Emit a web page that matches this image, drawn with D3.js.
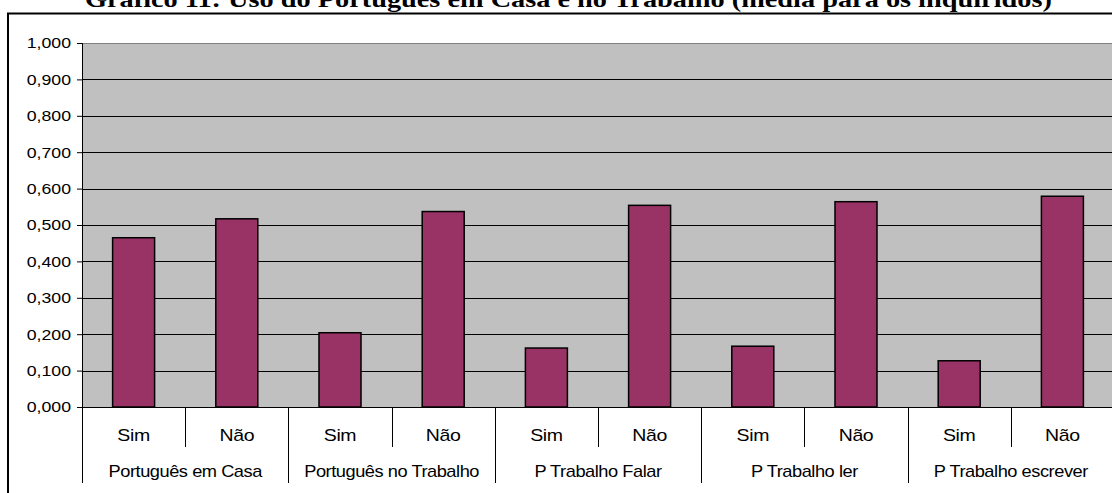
<!DOCTYPE html>
<html>
<head>
<meta charset="utf-8">
<script src="https://cdn.jsdelivr.net/npm/d3@7"></script>
<style>
  html, body { margin: 0; padding: 0; background: #fff; overflow: hidden; }
  svg { display: block; }
</style>
</head>
<body>
<svg id="chart" width="1112" height="493"></svg>
<script>
// Data
const titleText = "Gráfico 11: Uso do Português em Casa e no Trabalho (média para os inquiridos)";
const groups = ["Português em Casa", "Português no Trabalho", "P Trabalho Falar", "P Trabalho ler", "P Trabalho escrever"];
const answers = ["Sim", "Não"];
const values = [0.465, 0.517, 0.204, 0.537, 0.162, 0.554, 0.167, 0.564, 0.127, 0.579];
const yTicks = [0, 0.1, 0.2, 0.3, 0.4, 0.5, 0.6, 0.7, 0.8, 0.9, 1.0];

// Flattened category list (group × answer)
const cats = [];
groups.forEach((g, gi) => answers.forEach((a, ai) => cats.push({ key: gi + "-" + ai, group: g, answer: a, value: values[gi * 2 + ai] })));

const svg = d3.select("#chart");
const sx = 1.18; // horizontal text stretch
const fontSans = "'Liberation Sans', Arial, sans-serif";

const plot = { left: 82, right: 1114, top: 43, bottom: 407 };

const x = d3.scaleBand()
  .domain(cats.map(d => d.key))
  .range([plot.left, plot.right])
  .paddingInner(0.593)
  .paddingOuter(0.2965);

const y = d3.scaleLinear().domain([0, 1]).range([plot.bottom, plot.top]);

const step = (plot.right - plot.left) / cats.length;

// Outer chart frame
svg.append("rect")
  .attr("x", 8).attr("y", 13.5)
  .attr("width", 1200).attr("height", 600)
  .attr("fill", "none").attr("stroke", "#000").attr("stroke-width", 2);

// Title (stretched horizontally, partly above the top edge)
svg.append("text")
  .attr("transform", `translate(85,6.5) scale(${sx},1)`)
  .attr("font-family", "'Liberation Serif', 'Times New Roman', serif")
  .attr("font-weight", "bold")
  .attr("font-size", 24)
  .attr("fill", "#000")
  .text(titleText);

// Plot background
svg.append("rect")
  .attr("x", plot.left).attr("y", plot.top)
  .attr("width", plot.right - plot.left).attr("height", plot.bottom - plot.top)
  .attr("fill", "#c0c0c0");

// Top border of plot area
svg.append("line")
  .attr("x1", plot.left).attr("x2", plot.right)
  .attr("y1", y(1) + 0.5).attr("y2", y(1) + 0.5)
  .attr("stroke", "#808080").attr("stroke-width", 1);

// Gridlines
svg.append("g").selectAll("line")
  .data(yTicks.filter(t => t > 0 && t < 1))
  .join("line")
  .attr("x1", plot.left).attr("x2", plot.right)
  .attr("y1", d => Math.round(y(d)) + 0.5).attr("y2", d => Math.round(y(d)) + 0.5)
  .attr("stroke", "#000").attr("stroke-width", 1);

// Bars
svg.append("g").selectAll("rect")
  .data(cats)
  .join("rect")
  .attr("x", d => x(d.key))
  .attr("y", d => y(d.value))
  .attr("width", x.bandwidth())
  .attr("height", d => y(0) - y(d.value))
  .attr("fill", "#993366")
  .attr("stroke", "#000")
  .attr("stroke-width", 1.5);

// Y axis
const yAxis = svg.append("g")
  .attr("transform", `translate(${plot.left},0)`)
  .call(d3.axisLeft(y).tickValues(yTicks).tickSize(5).tickPadding(6)
    .tickFormat(d => d3.format(".3f")(d).replace(".", ",")));
yAxis.select(".domain").remove();
yAxis.selectAll(".tick line").attr("stroke", "#000");
yAxis.selectAll(".tick text")
  .attr("font-family", fontSans)
  .attr("font-size", 15)
  .attr("fill", "#000")
  .attr("x", -11 / sx)
  .attr("transform", `scale(${sx},1)`);

// Vertical axis line running down through the label area
svg.append("line")
  .attr("x1", plot.left + 0.5).attr("x2", plot.left + 0.5)
  .attr("y1", plot.top).attr("y2", 483)
  .attr("stroke", "#000").attr("stroke-width", 1);

// Category axis baseline
svg.append("line")
  .attr("x1", plot.left).attr("x2", plot.right)
  .attr("y1", plot.bottom + 0.5).attr("y2", plot.bottom + 0.5)
  .attr("stroke", "#000").attr("stroke-width", 1);

// Category separators: short between answers, long between groups
const seps = d3.range(1, cats.length);
svg.append("g").selectAll("line")
  .data(seps)
  .join("line")
  .attr("x1", i => Math.round(plot.left + i * step) + 0.5)
  .attr("x2", i => Math.round(plot.left + i * step) + 0.5)
  .attr("y1", plot.bottom)
  .attr("y2", i => (i % 2 === 0 ? 483 : 447))
  .attr("stroke", "#000").attr("stroke-width", 1);

// Answer labels
svg.append("g").selectAll("text")
  .data(cats)
  .join("text")
  .attr("transform", d => `translate(${x(d.key) + x.bandwidth() / 2},440.5) scale(1.22,1)`)
  .attr("text-anchor", "middle")
  .attr("font-family", fontSans)
  .attr("font-size", 16)
  .attr("letter-spacing", -0.3)
  .attr("fill", "#000")
  .text(d => d.answer);

// Group labels
svg.append("g").selectAll("text")
  .data(groups)
  .join("text")
  .attr("transform", (g, gi) => `translate(${plot.left + (gi * 2 + 1) * step},476.5) scale(1.14,1)`)
  .attr("text-anchor", "middle")
  .attr("font-family", fontSans)
  .attr("font-size", 16)
  .attr("letter-spacing", -0.4)
  .attr("fill", "#000")
  .text(g => g);
</script>
</body>
</html>
